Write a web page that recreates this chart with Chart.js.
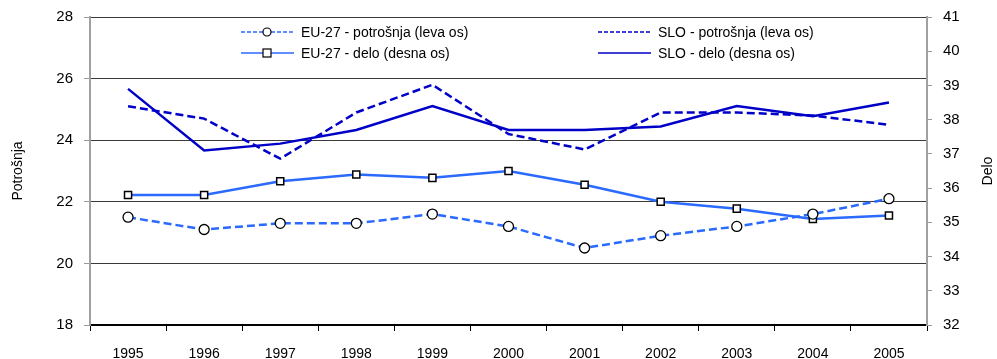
<!DOCTYPE html>
<html>
<head>
<meta charset="utf-8">
<script src="https://cdn.jsdelivr.net/npm/chart.js@4/dist/chart.umd.min.js"></script>
<style>
    html, body { margin: 0; padding: 0; background: #fff; }
    #wrap { width: 997px; height: 359px; }
</style>
</head>
<body>
<div id="wrap"><canvas id="chart" width="997" height="359"></canvas></div>
<script>
const years = ['1995', '1996', '1997', '1998', '1999', '2000', '2001', '2002', '2003', '2004', '2005'];

// potrošnja (left axis)
const euConsumption = [21.5, 21.1, 21.3, 21.3, 21.6, 21.2, 20.5, 20.9, 21.2, 21.6, 22.1];
const sloConsumption = [25.1, 24.7, 23.4, 24.9, 25.8, 24.2, 23.7, 24.9, 24.9, 24.8, 24.5];

// delo (right axis)
const euWork = [35.8, 35.8, 36.2, 36.4, 36.3, 36.5, 36.1, 35.6, 35.4, 35.1, 35.2];
const sloWork = [38.9, 37.1, 37.3, 37.7, 38.4, 37.7, 37.7, 37.8, 38.4, 38.1, 38.5];

const leftTicks = [18, 20, 22, 24, 26, 28];
const rightTicks = [32, 33, 34, 35, 36, 37, 38, 39, 40, 41];

const FONT = "'Liberation Sans', Arial, sans-serif";
const BRIGHT = '#2a6aff';
const DARK = '#0000c8';

// legend drawn in two columns inside the top of the plot
const legendSlots = [
    { x: 241, y: 32 }, { x: 598, y: 32 },
    { x: 241, y: 53 }, { x: 598, y: 53 }
];

const legendPlugin = {
    id: 'twoColLegend',
    afterDraw(chart) {
        const ctx = chart.ctx;
        chart.data.datasets.forEach((ds, i) => {
            const slot = legendSlots[ds.legendSlot];
            ctx.save();
            ctx.strokeStyle = ds.borderColor;
            ctx.lineWidth = 1.5;
            ctx.setLineDash(ds.borderDash ? [4, 2] : []);
            ctx.beginPath();
            ctx.moveTo(slot.x, slot.y);
            ctx.lineTo(slot.x + 53, slot.y);
            ctx.stroke();
            ctx.setLineDash([]);
            if (ds.pointStyle === 'circle') {
                ctx.fillStyle = '#fff';
                ctx.strokeStyle = '#000';
                ctx.lineWidth = 1.2;
                ctx.beginPath();
                ctx.arc(slot.x + 26, slot.y, 4, 0, Math.PI * 2);
                ctx.fill();
                ctx.stroke();
            } else if (ds.pointStyle === 'rect') {
                ctx.fillStyle = '#fff';
                ctx.strokeStyle = '#000';
                ctx.lineWidth = 1.2;
                ctx.fillRect(slot.x + 22, slot.y - 4, 8, 8);
                ctx.strokeRect(slot.x + 22, slot.y - 4, 8, 8);
            }
            ctx.fillStyle = '#000';
            ctx.font = '14px ' + FONT;
            ctx.textBaseline = 'middle';
            ctx.fillText(ds.label, slot.x + 60, slot.y + 1);
            ctx.restore();
        });
    }
};

// both axis titles read bottom to top
const axisTitlePlugin = {
    id: 'axisTitles',
    afterDraw(chart) {
        const ctx = chart.ctx;
        const area = chart.chartArea;
        const midY = (area.top + area.bottom) / 2;
        ctx.save();
        ctx.fillStyle = '#000';
        ctx.font = '14px ' + FONT;
        ctx.textAlign = 'center';
        ctx.textBaseline = 'middle';
        [[18, 'Potrošnja'], [988, 'Delo']].forEach(([x, text]) => {
            ctx.save();
            ctx.translate(x, midY);
            ctx.rotate(-Math.PI / 2);
            ctx.fillText(text, 0, 0);
            ctx.restore();
        });
        ctx.restore();
    }
};

function fixWidth(width) {
    return (scale) => {
        scale.width = width;
        scale.paddingTop = 0;
        scale.paddingBottom = 0;
    };
}

new Chart(document.getElementById('chart'), {
    type: 'line',
    data: {
        labels: years,
        datasets: [
            {
                label: 'EU-27 - potrošnja (leva os)',
                data: euConsumption,
                yAxisID: 'yLeft',
                borderColor: BRIGHT,
                borderWidth: 2.5,
                borderDash: [8, 4],
                pointStyle: 'circle',
                pointRadius: 5,
                pointBackgroundColor: '#fff',
                pointBorderColor: '#000',
                pointBorderWidth: 1.3,
                legendSlot: 0
            },
            {
                label: 'SLO - potrošnja (leva os)',
                data: sloConsumption,
                yAxisID: 'yLeft',
                borderColor: DARK,
                borderWidth: 2.5,
                borderDash: [8, 4],
                pointRadius: 0,
                legendSlot: 1
            },
            {
                label: 'EU-27 - delo (desna os)',
                data: euWork,
                yAxisID: 'yRight',
                borderColor: BRIGHT,
                borderWidth: 2.5,
                pointStyle: 'rect',
                pointRadius: 5,
                pointBackgroundColor: '#fff',
                pointBorderColor: '#000',
                pointBorderWidth: 1.5,
                legendSlot: 2
            },
            {
                label: 'SLO - delo (desna os)',
                data: sloWork,
                yAxisID: 'yRight',
                borderColor: DARK,
                borderWidth: 2.5,
                pointRadius: 0,
                legendSlot: 3
            }
        ]
    },
    options: {
        responsive: false,
        animation: false,
        layout: { padding: { top: 17, left: 0, right: 0, bottom: 0 } },
        plugins: {
            legend: { display: false },
            tooltip: { enabled: false }
        },
        scales: {
            x: {
                offset: true,
                grid: {
                    offset: true,
                    drawOnChartArea: false,
                    drawTicks: true,
                    tickLength: 6,
                    color: '#000'
                },
                border: { color: '#000', width: 2 },
                ticks: {
                    color: '#000',
                    font: { family: FONT, size: 14 },
                    padding: 15,
                    maxRotation: 0
                },
                afterFit(scale) {
                    scale.height = 34;
                    scale.paddingLeft = 0;
                    scale.paddingRight = 0;
                }
            },
            yLeft: {
                position: 'left',
                min: 18,
                max: 28,
                afterBuildTicks(scale) { scale.ticks = leftTicks.map(v => ({ value: v })); },
                grid: {
                    color: '#3a3a3a',
                    lineWidth: 1,
                    drawTicks: true,
                    tickLength: 6,
                    tickColor: '#999'
                },
                border: { color: '#a0a0a0', width: 2 },
                ticks: {
                    color: '#000',
                    font: { family: FONT, size: 15 },
                    padding: 11
                },
                afterFit: fixWidth(90)
            },
            yRight: {
                position: 'right',
                min: 32,
                max: 41,
                afterBuildTicks(scale) { scale.ticks = rightTicks.map(v => ({ value: v })); },
                grid: {
                    drawOnChartArea: false,
                    drawTicks: true,
                    tickLength: 5,
                    tickColor: '#999'
                },
                border: { color: '#a0a0a0', width: 2 },
                ticks: {
                    color: '#000',
                    font: { family: FONT, size: 15 },
                    padding: 11
                },
                afterFit: fixWidth(70)
            }
        }
    },
    plugins: [legendPlugin, axisTitlePlugin]
});
</script>
</body>
</html>
